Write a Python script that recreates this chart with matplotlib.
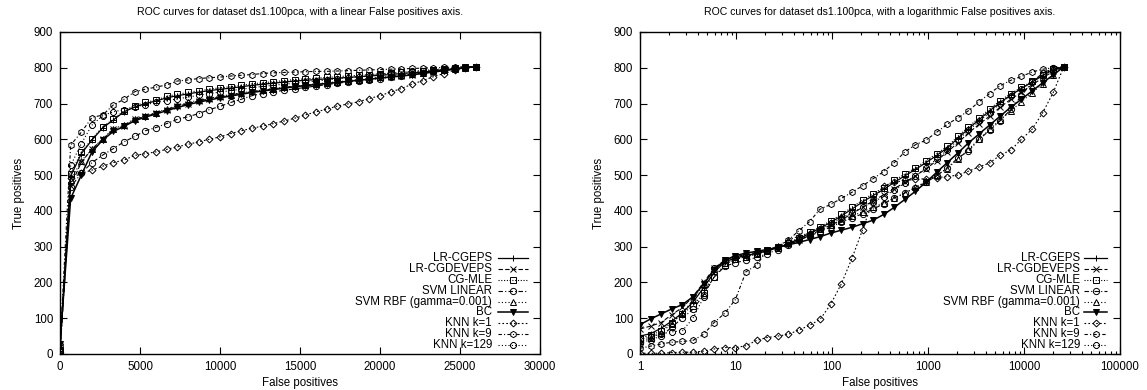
import numpy as np
import matplotlib.pyplot as plt
from matplotlib.lines import Line2D

plt.rcParams['font.family'] = ['Liberation Sans', 'DejaVu Sans']

# sampling grids of the two plots (false positives)
fp_lin = np.linspace(0, 26000, 40)
fp_log = np.geomspace(1, 26000, 41)

names = ['LR-CGEPS', 'LR-CGDEVEPS', 'CG-MLE', 'SVM LINEAR',
         'SVM RBF (gamma=0.001)', 'BC', 'KNN k=1', 'KNN k=9', 'KNN k=129']

# true positives, linear axis plot
lrcgeps_lin = [15, 497, 560, 598, 632, 654, 677, 690, 700, 707, 716, 722, 727, 732, 736, 740, 743, 747, 751, 754,
               757, 760, 763, 765, 767, 769, 771, 773, 775, 777, 779, 781, 784, 786, 788, 791, 794, 797, 800, 803]
lrcgdev_lin = [20, 470, 536, 573, 600, 628, 637, 656, 664, 673, 683, 692, 700, 707, 713, 718, 724, 729, 733, 737,
               741, 745, 748, 751, 754, 757, 760, 763, 766, 769, 772, 775, 778, 781, 785, 789, 793, 797, 800, 803]
cgmle_lin = [10, 504, 564, 601, 635, 656, 680, 694, 703, 710, 720, 726, 731, 736, 740, 744, 747, 751, 755, 758,
             761, 764, 767, 769, 771, 773, 775, 777, 779, 781, 783, 785, 787, 789, 791, 794, 796, 798, 801, 803]
svmlin_lin = [5, 467, 505, 535, 556, 574, 593, 608, 624, 633, 644, 656, 663, 672, 683, 692, 703, 712, 722, 728,
              733, 737, 741, 745, 749, 753, 757, 760, 764, 767, 770, 774, 778, 782, 786, 790, 794, 797, 800, 803]
svmrbf_lin = [18, 485, 540, 572, 602, 630, 640, 658, 666, 675, 685, 695, 703, 709, 715, 720, 725, 730, 734, 738,
              742, 746, 749, 752, 755, 758, 761, 764, 767, 770, 773, 776, 779, 782, 786, 790, 794, 797, 800, 803]
bc_lin = [28, 435, 500, 565, 598, 622, 636, 652, 662, 671, 680, 689, 697, 704, 710, 716, 721, 726, 731, 735,
          739, 743, 747, 750, 753, 756, 759, 762, 765, 768, 771, 774, 777, 780, 784, 788, 792, 796, 800, 803]
knn1_lin = [0, 491, 505, 514, 525, 535, 542, 555, 560, 565, 572, 579, 586, 593, 600, 607, 616, 624, 631, 637,
            644, 651, 659, 668, 677, 684, 693, 699, 705, 714, 722, 732, 742, 754, 764, 775, 784, 793, 800, 803]
knn9_lin = [25, 584, 620, 661, 668, 696, 712, 733, 740, 746, 752, 763, 766, 770, 772, 774, 777, 779, 781, 784,
            786, 787, 788, 789, 790, 790, 791, 792, 793, 794, 795, 796, 797, 798, 799, 800, 801, 802, 803, 803]
knn129_lin = [12, 527, 588, 640, 666, 677, 683, 690, 697, 703, 708, 713, 718, 723, 728, 732, 736, 740, 744, 748,
              751, 754, 757, 760, 763, 766, 769, 772, 775, 778, 781, 784, 787, 790, 792, 795, 797, 799, 801, 803]

# true positives, logarithmic axis plot
lrcgeps_log = [50, 57, 72, 92, 115, 145, 185, 228, 258, 268, 275, 281, 288, 297, 308, 322, 337, 352, 368, 386,
               405, 425, 443, 460, 480, 498, 516, 535, 555, 576, 603, 630, 655, 680, 703, 724, 742, 760, 778, 795, 803]
lrcgdev_log = [70, 78, 88, 110, 130, 160, 200, 240, 262, 272, 278, 284, 290, 298, 307, 318, 332, 346, 360, 375,
               392, 410, 428, 445, 462, 480, 498, 518, 540, 565, 590, 618, 642, 665, 690, 712, 732, 752, 772, 790, 803]
cgmle_log = [45, 52, 65, 88, 112, 135, 170, 215, 250, 265, 272, 279, 287, 297, 310, 325, 340, 356, 372, 390,
             410, 430, 448, 465, 485, 503, 520, 540, 560, 580, 608, 635, 660, 685, 708, 728, 745, 762, 780, 797, 803]
svmlin_log = [30, 40, 50, 75, 100, 125, 165, 215, 245, 255, 262, 270, 280, 292, 305, 318, 330, 342, 355, 368,
              380, 392, 405, 420, 436, 450, 465, 480, 498, 520, 548, 567, 600, 625, 652, 684, 722, 760, 785, 798, 803]
svmrbf_log = [35, 45, 60, 85, 115, 150, 195, 238, 255, 265, 272, 280, 290, 302, 318, 330, 338, 348, 360, 372,
              385, 398, 410, 422, 436, 450, 466, 482, 500, 518, 545, 572, 600, 628, 655, 680, 705, 730, 755, 780, 803]
bc_log = [82, 98, 112, 126, 138, 160, 195, 235, 262, 275, 282, 287, 292, 298, 305, 312, 320, 328, 338, 346,
          354, 364, 374, 390, 410, 432, 455, 480, 508, 535, 562, 590, 615, 640, 665, 690, 712, 735, 758, 780, 803]
knn1_log = [2, 2, 2, 4, 5, 5, 8, 14, 18, 18, 23, 38, 46, 50, 55, 67, 80, 97, 139, 196,
            267, 347, 430, 470, 480, 485, 488, 490, 493, 496, 500, 511, 523, 534, 556, 570, 600, 628, 674, 731, 803]
knn9_log = [16, 22, 28, 33, 35, 38, 55, 88, 114, 152, 230, 248, 290, 300, 318, 345, 370, 405, 418, 435,
            452, 470, 490, 510, 535, 565, 585, 598, 620, 642, 660, 680, 705, 728, 750, 765, 776, 788, 796, 800, 803]
knn129_log = [40, 48, 56, 62, 65, 100, 158, 240, 262, 270, 276, 282, 290, 300, 310, 322, 335, 350, 365, 380,
              395, 410, 425, 440, 458, 478, 498, 520, 545, 570, 598, 625, 650, 675, 700, 722, 742, 762, 780, 795, 803]

lin_data = [lrcgeps_lin, lrcgdev_lin, cgmle_lin, svmlin_lin, svmrbf_lin,
            bc_lin, knn1_lin, knn9_lin, knn129_lin]
log_data = [lrcgeps_log, lrcgdev_log, cgmle_log, svmlin_log, svmrbf_log,
            bc_log, knn1_log, knn9_log, knn129_log]

# gnuplot-like line types
styles = [
    dict(ls='-', marker='+', ms=5, lw=0.9),
    dict(ls=(0, (4, 2)), marker='x', ms=4, lw=0.8),
    dict(ls=(0, (1, 1.5)), marker='s', ms=4, lw=0.8),
    dict(ls=(0, (4, 2, 1, 2)), marker='o', ms=4.5, lw=0.8),
    dict(ls=(0, (1, 2)), marker='^', ms=4.5, lw=0.8),
    dict(ls='-', marker='v', ms=4.5, lw=1.1, mfc='black'),
    dict(ls=(0, (1.5, 2)), marker='D', ms=3.5, lw=0.8),
    dict(ls=(0, (3, 2, 1, 2)), marker='h', ms=4.5, lw=0.8),
    dict(ls=(0, (1, 2)), marker='8', ms=4.5, lw=0.8),
]


def style_kw(st):
    kw = dict(color='black', mec='black', mew=0.7, mfc='none')
    kw.update(st)
    return kw


def draw_key(ax, text_x, x0, x1):
    # right aligned labels with the sample to their right, like gnuplot
    for i, (name, st) in enumerate(zip(names, styles)):
        y = 0.297 - i * 0.0335
        ax.text(text_x, y, name, transform=ax.transAxes, ha='right',
                va='center', fontsize=8.3)
        kw = style_kw(st)
        ax.add_line(Line2D([x0, x1], [y, y], transform=ax.transAxes,
                           color='black', ls=kw['ls'], lw=kw['lw']))
        ax.add_line(Line2D([(x0 + x1) / 2], [y], transform=ax.transAxes, marker=kw['marker'],
                           ms=kw['ms'], ls='none', color='black', mec='black',
                           mew=kw['mew'], mfc=kw['mfc']))


fig = plt.figure(figsize=(11.47, 3.9), dpi=100)
ax1 = fig.add_axes([60 / 1147, 36 / 390, 480 / 1147, 322 / 390])
ax2 = fig.add_axes([640 / 1147, 36 / 390, 480 / 1147, 322 / 390])

for tp, st in zip(lin_data, styles):
    ax1.plot(fp_lin, tp, **style_kw(st))
for tp, st in zip(log_data, styles):
    ax2.plot(fp_log, tp, **style_kw(st))

ax1.set_xlim(0, 30000)
ax1.set_xticks(np.arange(0, 30001, 5000))
ax2.set_xscale('log')
ax2.set_xlim(1, 100000)
ax2.set_xticks([1, 10, 100, 1000, 10000, 100000])
ax2.set_xticklabels(['1', '10', '100', '1000', '10000', '100000'])

for ax, kind in ((ax1, 'linear'), (ax2, 'logarithmic')):
    ax.set_ylim(0, 900)
    ax.set_yticks(np.arange(0, 901, 100))
    ax.tick_params(which='both', direction='in', top=True, right=True,
                   labelsize=8.3, width=0.8, color='black')
    ax.tick_params(which='major', length=5, pad=5)
    ax.tick_params(which='minor', length=2.5)
    for s in ax.spines.values():
        s.set_linewidth(1.0)
    ax.set_xlabel('False positives', fontsize=8.3, labelpad=3)
    ax.set_ylabel('True positives', fontsize=8.3, labelpad=6)
    ax.set_title('ROC curves for dataset ds1.100pca, with a %s False positives axis.' % kind,
                 fontsize=7.6, pad=12)

draw_key(ax1, 0.9, 0.9125, 0.975)
draw_key(ax2, 0.9167, 0.925, 0.973)

fig.savefig('out.png', dpi=100)
